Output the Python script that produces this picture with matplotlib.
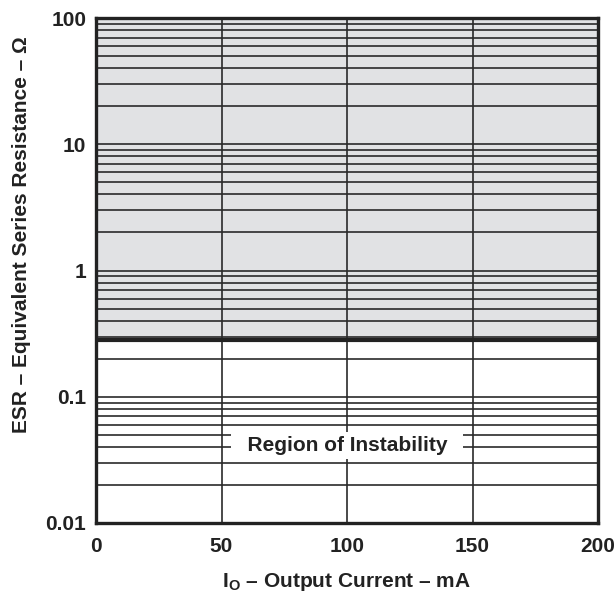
import numpy as np
import matplotlib.pyplot as plt

plt.rcParams['font.family'] = ['Liberation Sans', 'DejaVu Sans']
plt.rcParams['font.weight'] = 'bold'
plt.rcParams['mathtext.fontset'] = 'custom'
plt.rcParams['mathtext.rm'] = 'Liberation Sans:bold'

# datos
x_ticks = [0, 50, 100, 150, 200]
y_ticks = [0.01, 0.1, 1, 10, 100]
y_labels = ['0.01', '0.1', '1', '10', '100']
esr_limite = 0.28
esr_max = 100
texto_pos = (100, 0.041)

fig = plt.figure(figsize=(6.16, 5.93), dpi=100)
ax = fig.add_axes([96/616, 70/593, 502/616, 505/593])

ax.set_yscale('log')
ax.set_xlim(0, 200)
ax.set_ylim(0.01, 100)

# region sombreada
ax.axhspan(esr_limite, esr_max, color='#e1e2e4', zorder=0)
ax.axhline(esr_limite, color='#222222', linewidth=3, zorder=3)

ax.set_xticks(x_ticks)
ax.set_yticks(y_ticks)
ax.set_yticklabels(y_labels)
ax.tick_params(axis='both', which='both', length=0, labelsize=15, colors='#222222')
ax.tick_params(axis='x', pad=10)
ax.tick_params(axis='y', pad=7)
for lbl in ax.get_xticklabels() + ax.get_yticklabels():
    lbl.set_fontweight('bold')

ax.grid(True, which='major', color='#2a2a2a', linewidth=1.2, zorder=1)
ax.grid(True, which='minor', axis='y', color='#2a2a2a', linewidth=1.2, zorder=1)
ax.set_axisbelow(True)

for s in ax.spines.values():
    s.set_linewidth(2.4)
    s.set_color('#222222')

ax.text(texto_pos[0], texto_pos[1], '  Region of Instability  ', ha='center', va='center',
        fontsize=15, fontweight='bold', color='#222222', zorder=5,
        bbox=dict(facecolor='white', edgecolor='none', pad=3))

ax.set_xlabel(r'I$_\mathrm{O}$ – Output Current – mA', fontsize=15, fontweight='bold', color='#222222')
ax.set_ylabel('ESR – Equivalent Series Resistance – Ω', fontsize=15, fontweight='bold', color='#222222')
ax.xaxis.set_label_coords(0.5, -0.095)
ax.yaxis.set_label_coords(-0.13, 0.572)

fig.savefig('out.png', dpi=100)
